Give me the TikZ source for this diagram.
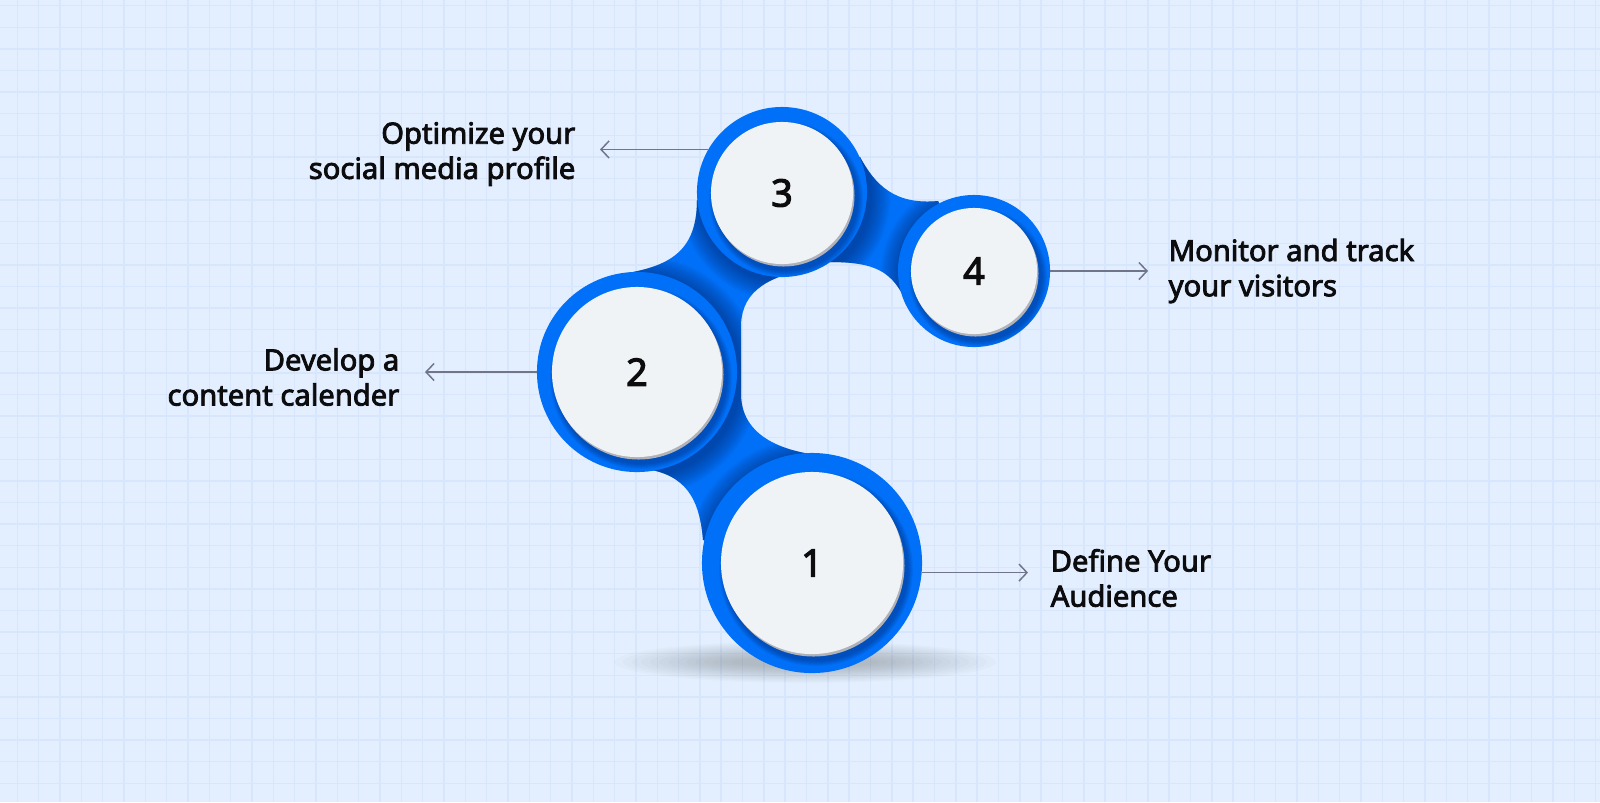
\documentclass[tikz,border=0pt]{standalone}
\usepackage{fontspec}
\setmainfont{Noto Sans}[BoldFont={Noto Sans},BoldFeatures={FakeBold=2.8}]
\usetikzlibrary{arrows.meta}
\definecolor{paper}{RGB}{227,239,254}
\definecolor{gridline}{RGB}{215,230,252}
\definecolor{ringblue}{RGB}{0,112,248}
\definecolor{ringshade}{RGB}{0,34,100}
\definecolor{discwhite}{RGB}{240,243,245}
\definecolor{discedge}{RGB}{176,178,184}
\definecolor{arrowgray}{RGB}{112,117,140}
\definecolor{inktext}{RGB}{12,12,14}

\tikzset{
  neckmain/.style={insert path={(615,275) .. controls (665,268) and (697,255) .. (697,200) -- (782,192) -- (815,268) .. controls (770,275) and (742,290) .. (741,325) -- (741,395) .. controls (742,440) and (790,455) .. (840,457) -- (812,563) -- (703,540) .. controls (700,505) and (690,478) .. (652,470) -- (637,372) -- cycle}},
  neckside/.style={insert path={(860,157) .. controls (875,185) and (895,205) .. (938,201) -- (974,271) -- (903,295) .. controls (890,272) and (875,262) .. (830,262) -- (782,192) -- cycle}}
}

\begin{document}
\begin{tikzpicture}[x=0.01cm,y=-0.01cm,
    ring/.style={circle,fill=ringblue,inner sep=0pt,outer sep=0pt},
    disc/.style={circle,fill=discwhite,inner sep=0pt,outer sep=0pt,text=inktext,font=\fontsize{10.8}{12}\selectfont\bfseries},
    lbl/.style={inner sep=0pt,text=inktext,font=\fontsize{8.3}{10}\selectfont\bfseries},
    arr/.style={draw=arrowgray,line width=0.42pt,-{Straight Barb[length=0.8mm,width=1.7mm]}}]
    \useasboundingbox (0,0) rectangle (1600,802);
    \fill[paper] (0,0) rectangle (1600,802);
    % grid
    \foreach \gx in {0,...,74}
      \draw[gridline,line width=0.4pt] (17.3+\gx*21.33,0) -- (17.3+\gx*21.33,802);
    \foreach \gy in {0,...,36}
      \draw[gridline,line width=0.4pt] (0,5.7+\gy*21.6) -- (1600,5.7+\gy*21.6);
    % ground shadow
    \foreach \i in {1,...,14}
      \fill[black!70!paper,opacity=0.022] (805,662) ellipse[x radius=200-\i*9,y radius=22-\i*1.2];
    % necks
    \fill[ringblue,neckmain];
    \fill[ringblue,neckside];
    \begin{scope}
      \path[clip,neckmain];
      \foreach \cx/\cy/\r in {812/563/110,637/372/100,782/192/85}
        \foreach \i in {1,...,12}
          \fill[ringshade,opacity=0.05] (\cx+3,\cy+4) circle[radius=\r+\i*1.7];
    \end{scope}
    \begin{scope}
      \path[clip,neckside];
      \foreach \cx/\cy/\r in {782/192/85,974/271/76}
        \foreach \i in {1,...,12}
          \fill[ringshade,opacity=0.05] (\cx+3,\cy+4) circle[radius=\r+\i*1.7];
    \end{scope}
    % rings
    \node[ring,minimum size=2.2cm] (c1) at (812,563) {};
    \node[ring,minimum size=2.0cm] (c2) at (637,372) {};
    \node[ring,minimum size=1.7cm] (c3) at (782,192) {};
    \node[ring,minimum size=1.52cm] (c4) at (974,271) {};
    % disc shadows
    \foreach \cx/\cy/\r in {812/563/91,637/372/85,782/193/71,974/271/63} {
      \foreach \i in {1,...,6}
        \fill[ringshade,opacity=0.08] (\cx+4,\cy+6) circle[radius=\r+\i];
      \fill[discedge] (\cx+1.5,\cy+2.5) circle[radius=\r];
    }
    % discs
    \node[disc,minimum size=1.82cm] (n1) at (812,563) {1};
    \node[disc,minimum size=1.7cm] (n2) at (637,372) {2};
    \node[disc,minimum size=1.42cm] (n3) at (782,193) {3};
    \node[disc,minimum size=1.26cm] (n4) at (974,271) {4};
    % labels
    \node[lbl,anchor=west,align=left] (t1) at (1050,578) {Define Your\\Audience};
    \node[lbl,anchor=east,align=right] (t2) at (400,377) {Develop a\\content calender};
    \node[lbl,anchor=east,align=right] (t3) at (576,154) {Optimize your\\social media profile};
    \node[lbl,anchor=west,align=left] (t4) at (1168,271) {Monitor and track\\your visitors};
    % arrows
    \draw[arr] (c1.-5) -- ([xshift=-2.2mm]c1.-5 -| t1.west);
    \draw[arr] (c2.west) -- ([xshift=2.5mm]c2.west -| t2.east);
    \draw[arr] (c3.150) -- ([xshift=2.4mm]c3.150 -| t3.east);
    \draw[arr] (c4.east) -- ([xshift=-2mm]c4.east -| t4.west);
\end{tikzpicture}
\end{document}
